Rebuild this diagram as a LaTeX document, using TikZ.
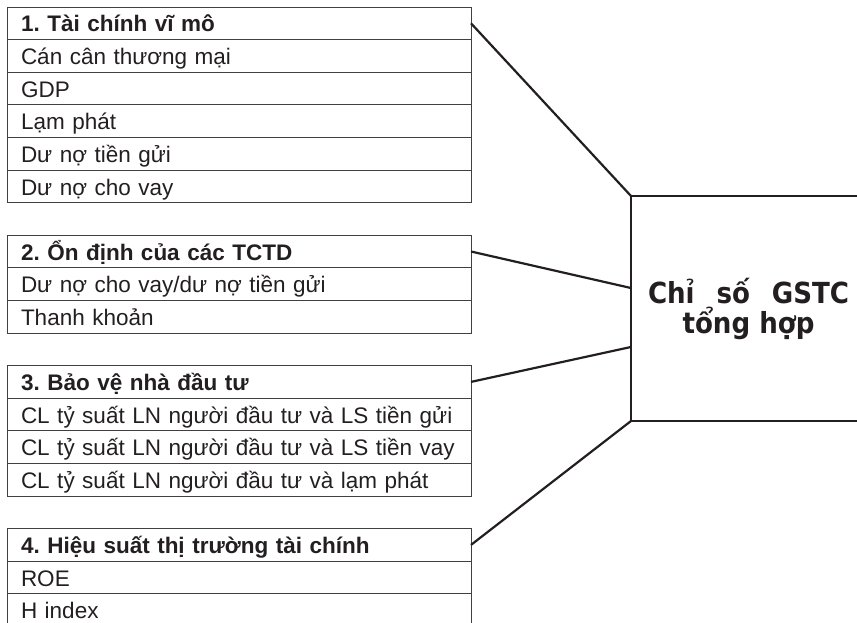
\documentclass[tikz,border=0pt]{standalone}
\usepackage{fontspec}
\setmainfont{Liberation Sans}
\newfontfamily\boxfont{DejaVu Sans Condensed}
\usetikzlibrary{calc}
\frenchspacing
\definecolor{ink}{HTML}{231F20}
\tikzset{
  cell/.style={draw=black!75, line width=0.9pt, anchor=north west, outer sep=0pt,
    minimum width=464pt, text width=436pt, inner xsep=14pt, inner ysep=0pt,
    text height=25pt, text depth=7.6pt, align=left, text=ink,
    font=\fontsize{22.5}{26}\selectfont\frenchspacing},
  head/.style={cell, font=\fontsize{22.5}{26}\selectfont\bfseries\frenchspacing},
  bigbox/.style={draw=ink, line width=2.4pt, anchor=north west, outer sep=0pt,
    minimum width=228pt, minimum height=225pt, inner sep=0pt},
  bigtext/.style={align=center, inner sep=0pt, anchor=base,
    font=\boxfont\bfseries\fontsize{29}{30}\selectfont, text=ink},
  link/.style={line width=2.2pt, draw=ink}
}
\begin{document}
\begin{tikzpicture}[x=1pt, y=-1pt]
\useasboundingbox (0,0) rectangle (857,623);
% group 1
\node[head] (h1) at (7,7) {1. Tài chính vĩ mô};
\node[cell] (r11) at (7,39.6) {Cán cân thương mại};
\node[cell] (r12) at (7,72.2) {GDP};
\node[cell] (r13) at (7,104.8) {Lạm phát};
\node[cell] (r14) at (7,137.4) {Dư nợ tiền gửi};
\node[cell] (r15) at (7,170) {Dư nợ cho vay};
% group 2
\node[head] (h2) at (7,235.2) {2. Ổn định của các TCTD};
\node[cell] (r21) at (7,267.8) {Dư nợ cho vay/dư nợ tiền gửi};
\node[cell] (r22) at (7,300.4) {Thanh khoản};
% group 3
\node[head] (h3) at (7,365.6) {3. Bảo vệ nhà đầu tư};
\node[cell] (r31) at (7,398.2) {CL tỷ suất LN người đầu tư và LS tiền gửi};
\node[cell] (r32) at (7,430.8) {CL tỷ suất LN người đầu tư và LS tiền vay};
\node[cell] (r33) at (7,463.4) {CL tỷ suất LN người đầu tư và lạm phát};
% group 4
\node[head] (h4) at (7,528.6) {4. Hiệu suất thị trường tài chính};
\node[cell] (r41) at (7,561.2) {ROE};
\node[cell] (r42) at (7,593.8) {H index};
% composite index box
\node[bigbox] (gstc) at (631,196) {};
\node[bigtext] (gtext) at (748.5,333) {\makebox[201pt][s]{Chỉ số GSTC}\\tổng hợp};
% connectors
\draw[link] (h1.east) -- (gstc.north west);
\draw[link] (h2.east) -- ($(gstc.north west)!0.409!(gstc.south west)$);
\draw[link] (h3.east) -- ($(gstc.north west)!0.671!(gstc.south west)$);
\draw[link] (h4.east) -- (gstc.south west);
\end{tikzpicture}
\end{document}
